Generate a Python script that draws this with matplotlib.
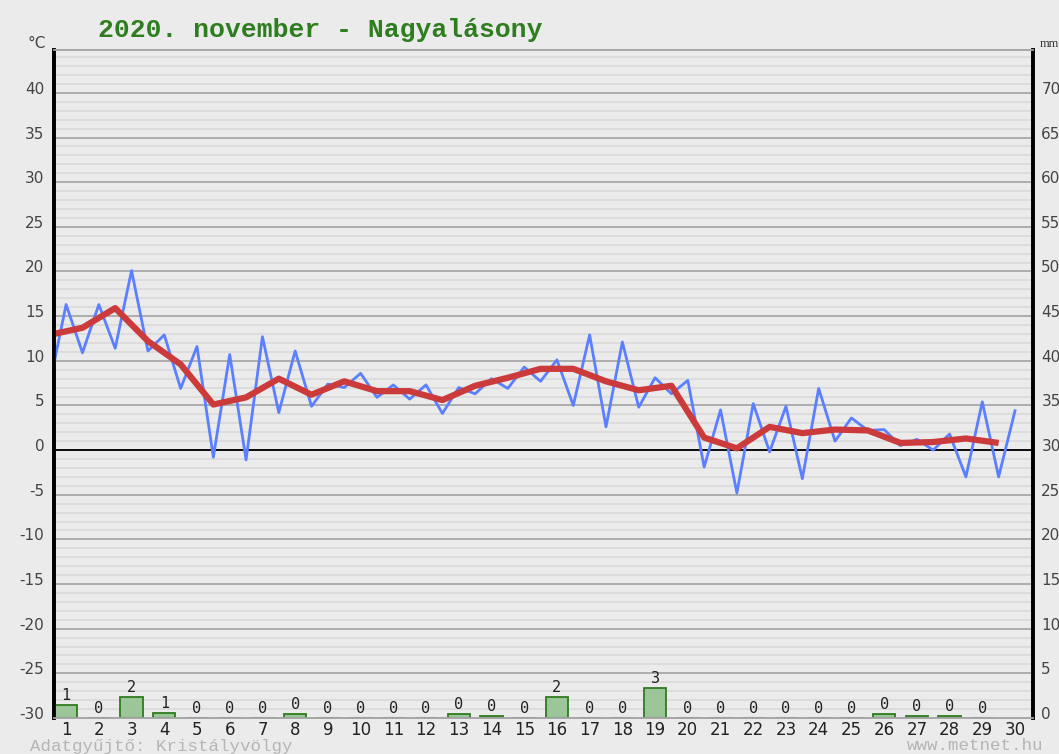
import matplotlib
matplotlib.use('Agg')
import matplotlib.pyplot as plt
import matplotlib.transforms as mtransforms
import numpy as np

plt.rcParams['axes.unicode_minus'] = False

# napi adatok - 2020 november, Nagyalásony
days = list(range(1, 31))

# hőmérséklet félnaponként (0.5 .. 30.0)
temp_x = np.arange(0.5, 30.01, 0.5)
temp = [7.4, 16.3, 10.9, 16.3, 11.4, 20.1, 11.1, 12.9, 6.9, 11.6,
        -0.8, 10.7, -1.1, 12.7, 4.2, 11.1, 4.9, 7.4, 7.0, 8.6,
        5.9, 7.3, 5.7, 7.3, 4.1, 7.0, 6.3, 8.0, 6.9, 9.3,
        7.7, 10.1, 5.0, 12.9, 2.6, 12.1, 4.8, 8.1, 6.3, 7.8,
        -1.9, 4.5, -4.8, 5.2, -0.2, 4.9, -3.2, 6.9, 1.0, 3.6,
        2.2, 2.3, 0.5, 1.2, 0.0, 1.8, -3.0, 5.4, -3.0, 4.4]

# napi középhőmérséklet (0.5 .. 29.5)
mean_x = np.arange(0.5, 29.51, 1.0)
mean_temp = [12.9, 13.7, 15.9, 12.2, 9.6, 5.1, 5.9, 8.0, 6.2, 7.7,
             6.6, 6.6, 5.6, 7.2, 8.1, 9.1, 9.1, 7.7, 6.7, 7.2,
             1.4, 0.2, 2.6, 1.9, 2.3, 2.2, 0.8, 0.9, 1.3, 0.8]

# csapadék (mm), 1..29
precip_days = list(range(1, 30))
precip = [1.4, 0, 2.3, 0.6, 0, 0, 0, 0.4, 0, 0,
          0, 0, 0.4, 0.2, 0, 2.3, 0, 0, 3.4, 0,
          0, 0, 0, 0, 0, 0.4, 0.2, 0.2, 0]
precip_labels = ['1', '0', '2', '1', '0', '0', '0', '0', '0', '0',
                 '0', '0', '0', '0', '0', '2', '0', '0', '3', '0',
                 '0', '0', '0', '0', '0', '0', '0', '0', '0']

bg = '#ebebeb'
bar_w = 0.68
W, H = 1059, 754
fig = plt.figure(figsize=(W / 100, H / 100), dpi=100, facecolor=bg)
ax = fig.add_axes([54 / W, 1 - 718 / H, (1033 - 54) / W, (718 - 50) / H])
ax.set_facecolor(bg)
ax.set_xlim(0.63, 30.55)
ax.set_ylim(-30, 44.8)

# rácsvonalak
ax.set_yticks(np.arange(-30, 41, 5))
ax.set_yticks(np.arange(-30, 45, 1), minor=True)
ax.grid(which='minor', axis='y', color='#dadada', lw=1.2, zorder=0)
ax.grid(which='major', axis='y', color='#a8a8a8', lw=1.3, zorder=0)
ax.set_axisbelow(True)
ax.axhline(0, color='black', lw=1.3, zorder=1)

ax.set_xticks(days)
ax.tick_params(axis='x', length=0, pad=2, labelsize=12, labelcolor='#222222')
ax.tick_params(axis='y', which='both', length=0, pad=7, labelsize=11, labelcolor='#444444')

# hőmérséklet görbék
ax.plot(temp_x, temp, color='#5b7fff', lw=2.0, zorder=3)
ax.plot(mean_x, mean_temp, color='#cc3b3b', lw=4.5, zorder=4, solid_capstyle='butt')

# jobb tengely - csapadék
ax2 = ax.twinx()
ax2.set_ylim(0, 74.8)
ax2.set_yticks(np.arange(0, 71, 5))
ax2.tick_params(axis='y', length=0, pad=6, labelsize=11, labelcolor='#444444')
ax2.bar(precip_days, precip, width=bar_w, color='#9cc69a', edgecolor='#2e7b1f', lw=1.3, zorder=2)
px = np.array(precip_days)
ax2.hlines(np.zeros(len(px)), px - bar_w / 2, px + bar_w / 2, color='#2e7b1f', lw=2.2, zorder=2)
for d, h, lab in zip(precip_days, precip, precip_labels):
    ax2.annotate(lab, (d, h), xytext=(0, 3.6), textcoords='offset points',
                 ha='center', va='baseline', family='DejaVu Sans Mono',
                 size=11, color='#222222')

for a in (ax, ax2):
    for side in ('left', 'right'):
        a.spines[side].set_color('black')
        a.spines[side].set_linewidth(2.6)
    for side in ('top', 'bottom'):
        a.spines[side].set_color('#a8a8a8')
        a.spines[side].set_linewidth(1.3)

# címkék kicsit a vonal fölé
offset = mtransforms.ScaledTranslation(0, 0.05, fig.dpi_scale_trans)
for lbl in ax.get_yticklabels() + ax2.get_yticklabels():
    lbl.set_transform(lbl.get_transform() + offset)

fig.text(320 / W, 1 - 30 / H, '2020. november - Nagyalásony', ha='center', va='center',
         family='Liberation Mono', weight='bold', size=19, color='#2e7d1e')
fig.text(37 / W, 1 - 44 / H, '°C', ha='center', va='center', size=11, color='#444444')
fig.text(1040 / W, 1 - 44 / H, 'mm', ha='left', va='center', size=9,
         family='Liberation Serif', color='#333333')
fig.text(30 / W, 1 - 746 / H, 'Adatgyűjtő: Kristályvölgy', ha='left', va='center',
         family='Liberation Mono', size=12.6, color='#b5b5b5')
fig.text(1043 / W, 1 - 746 / H, 'www.metnet.hu', ha='right', va='center',
         family='Liberation Mono', size=12.6, color='#b5b5b5')

fig.savefig('out.png', dpi=100, facecolor=bg)
